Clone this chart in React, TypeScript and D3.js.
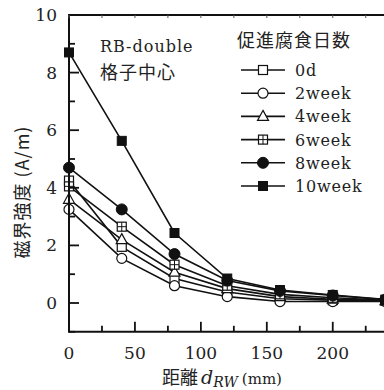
import React from "react";
import * as d3 from "d3";

const distances = [0, 40, 80, 120, 160, 200, 240];
const seriesNames = ["0d", "2week", "4week", "6week", "8week", "10week"];
const v0d = [4.25, 1.95, 0.85, 0.38, 0.15, 0.1, 0.08];
const v2week = [3.25, 1.55, 0.6, 0.22, 0.05, 0.05, 0.05];
const v4week = [3.6, 2.2, 1.07, 0.5, 0.22, 0.13, 0.08];
const v6week = [4.05, 2.65, 1.33, 0.6, 0.3, 0.18, 0.1];
const v8week = [4.7, 3.25, 1.7, 0.78, 0.42, 0.26, 0.12];
const v10week = [8.7, 5.63, 2.43, 0.85, 0.45, 0.28, 0.12];
const seriesValues = [v0d, v2week, v4week, v6week, v8week, v10week];
const markerTypes = ["squareOpen", "circleOpen", "triangleOpen", "squareCross", "circleFilled", "squareFilled"];
const yTickLabels = [0, 2, 4, 6, 8, 10];
const xTickLabels = [0, 50, 100, 150, 200];

const W = 384;
const H = 390;
const serif = '"DejaVu Serif", "Liberation Serif", serif';
const cjk = '"Noto Sans CJK JP", "Noto Sans CJK SC", sans-serif';

function Marker({ type, x, y }: { type: string; x: number; y: number }) {
  const s = 9;
  const r = 5;
  const stroke = "#111";
  switch (type) {
    case "squareOpen":
      return <rect x={x - s / 2} y={y - s / 2} width={s} height={s} fill="#fff" stroke={stroke} strokeWidth={1.2} />;
    case "circleOpen":
      return <circle cx={x} cy={y} r={r} fill="#fff" stroke={stroke} strokeWidth={1.2} />;
    case "triangleOpen":
      return (
        <path
          d={`M${x},${y - 6} L${x + 5.5},${y + 4} L${x - 5.5},${y + 4} Z`}
          fill="#fff"
          stroke={stroke}
          strokeWidth={1.2}
        />
      );
    case "squareCross":
      return (
        <g>
          <rect x={x - s / 2} y={y - s / 2} width={s} height={s} fill="#fff" stroke={stroke} strokeWidth={1.2} />
          <line x1={x - s / 2} x2={x + s / 2} y1={y} y2={y} stroke={stroke} strokeWidth={1} />
          <line x1={x} x2={x} y1={y - s / 2} y2={y + s / 2} stroke={stroke} strokeWidth={1} />
        </g>
      );
    case "circleFilled":
      return <circle cx={x} cy={y} r={r + 0.5} fill="#111" stroke={stroke} strokeWidth={1} />;
    case "squareFilled":
      return <rect x={x - s / 2} y={y - s / 2} width={s} height={s} fill="#111" stroke={stroke} strokeWidth={1} />;
    default:
      return null;
  }
}

export default function App() {
  const x = d3.scaleLinear().domain([0, 240]).range([69, 385.5]);
  const y = d3.scaleLinear().domain([0, 10]).range([303, 15]);
  const yBottom = y(-1);
  const xLeft = x(0);
  const line = d3
    .line<[number, number]>()
    .x((d) => x(d[0]))
    .y((d) => y(d[1]));

  const yMinor = d3.range(-1, 11, 1).filter((v) => v % 2 !== 0);
  const xMinor = d3.range(25, 250, 50);
  const xAll = d3.range(0, 250, 25);

  const legendX0 = 241;
  const legendX1 = 285;
  const legendY0 = 70;
  const legendStep = 23.2;

  const serifStyle = { fontFamily: serif };
  const cjkStyle = { fontFamily: cjk };

  return (
    <div style={{ position: "absolute", left: 0, top: 0 }}>
      <svg width={W} height={H} style={{ display: "block", background: "#fff" }}>
        <rect x={0} y={0} width={W} height={H} fill="#fff" />
        {seriesValues.map((vals, i) => (
          <path
            key={"l" + i}
            d={line(distances.map((d, j) => [d, vals[j]] as [number, number])) || ""}
            fill="none"
            stroke="#111"
            strokeWidth={1.6}
          />
        ))}
        {seriesValues.map((vals, i) =>
          distances.map((d, j) => <Marker key={`m${i}-${j}`} type={markerTypes[i]} x={x(d)} y={y(vals[j])} />)
        )}
        <line x1={xLeft} x2={W + 10} y1={y(10)} y2={y(10)} stroke="#111" strokeWidth={2} />
        <line x1={xLeft} x2={W + 10} y1={yBottom} y2={yBottom} stroke="#111" strokeWidth={2} />
        <line x1={xLeft} x2={xLeft} y1={y(10) - 1} y2={yBottom + 1} stroke="#111" strokeWidth={2} />
        {yTickLabels.map((v) => (
          <g key={"yt" + v}>
            <line x1={xLeft} x2={xLeft + 10} y1={y(v)} y2={y(v)} stroke="#111" strokeWidth={1.8} />
            <text x={57} y={y(v) + 6} textAnchor="end" style={serifStyle} fontSize={17} fill="#222">
              {v}
            </text>
          </g>
        ))}
        {yMinor.map((v) => (
          <line key={"ym" + v} x1={xLeft} x2={xLeft + 6} y1={y(v)} y2={y(v)} stroke="#111" strokeWidth={1.8} />
        ))}
        {xTickLabels.map((v) => (
          <g key={"xt" + v}>
            <line x1={x(v)} x2={x(v)} y1={yBottom} y2={yBottom - 10} stroke="#111" strokeWidth={1.8} />
            <text x={x(v)} y={359} textAnchor="middle" style={serifStyle} fontSize={17} fill="#222">
              {v}
            </text>
          </g>
        ))}
        {xMinor.map((v) => (
          <line key={"xm" + v} x1={x(v)} x2={x(v)} y1={yBottom} y2={yBottom - 6} stroke="#111" strokeWidth={1.8} />
        ))}
        {xAll.map((v) => (
          <line key={"xtop" + v} x1={x(v)} x2={x(v)} y1={y(10)} y2={y(10) + 3} stroke="#555" strokeWidth={1} />
        ))}
        <text x={100} y={52} style={serifStyle} fontSize={16} fill="#222" letterSpacing={1}>
          RB-double
        </text>
        <text x={100} y={79} style={cjkStyle} fontSize={18} fill="#222" letterSpacing={1}>
          格子中心
        </text>
        <text x={237} y={47} style={cjkStyle} fontSize={18} fill="#222" letterSpacing={1}>
          促進腐食日数
        </text>
        {seriesNames.map((name, i) => {
          const ly = legendY0 + i * legendStep;
          return (
            <g key={"lg" + i}>
              <line x1={legendX0} x2={legendX1} y1={ly} y2={ly} stroke="#111" strokeWidth={1.6} />
              <Marker type={markerTypes[i]} x={(legendX0 + legendX1) / 2} y={ly} />
              <text x={295} y={ly + 6} style={serifStyle} fontSize={16} fill="#222" letterSpacing={0.8}>
                {name}
              </text>
            </g>
          );
        })}
        <text
          transform={`translate(29, 192) rotate(-90)`}
          textAnchor="middle"
          style={cjkStyle}
          fontSize={18}
          fill="#222"
          letterSpacing={1}
        >
          磁界強度 (A/m)
        </text>
        <text x={222} y={384} textAnchor="middle" fill="#222">
          <tspan style={cjkStyle} fontSize={18}>距離</tspan>
          <tspan style={serifStyle} fontSize={19} fontStyle="italic" dx={3}>d</tspan>
          <tspan style={serifStyle} fontSize={14} fontStyle="italic" dy={3}>RW</tspan>
          <tspan style={serifStyle} fontSize={15} dy={-3} dx={4}>(mm)</tspan>
        </text>
      </svg>
    </div>
  );
}
